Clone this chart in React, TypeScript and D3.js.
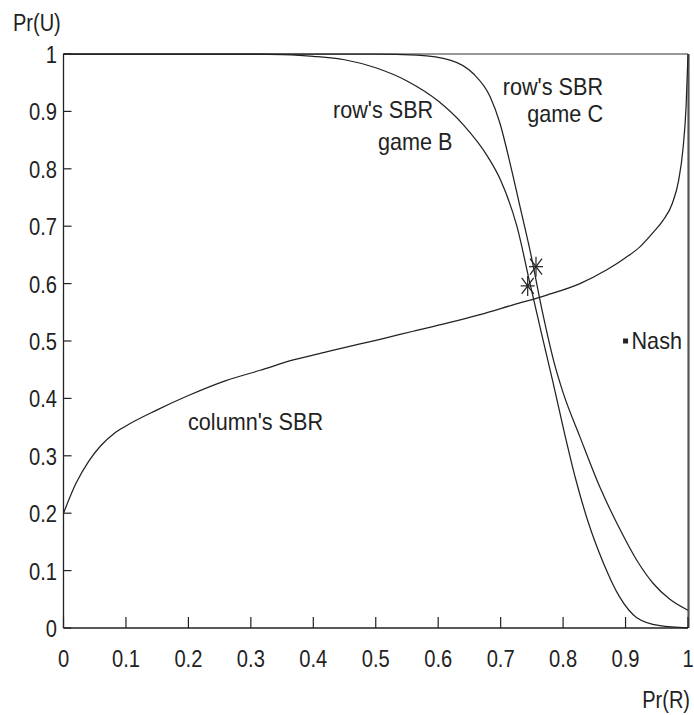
import React from 'react';
import * as d3 from 'd3';

const xTicks = [0, 0.1, 0.2, 0.3, 0.4, 0.5, 0.6, 0.7, 0.8, 0.9, 1];
const yTicks = [0, 0.1, 0.2, 0.3, 0.4, 0.5, 0.6, 0.7, 0.8, 0.9, 1];
const xTickLabels = ['0', '0.1', '0.2', '0.3', '0.4', '0.5', '0.6', '0.7', '0.8', '0.9', '1'];
const yTickLabels = ['0', '0.1', '0.2', '0.3', '0.4', '0.5', '0.6', '0.7', '0.8', '0.9', '1'];

// column's SBR
const colX = [0, 0.02, 0.04, 0.06, 0.08, 0.1, 0.15, 0.2, 0.26, 0.315, 0.368, 0.421, 0.475, 0.507, 0.56, 0.614, 0.667, 0.72, 0.774, 0.827, 0.87, 0.9, 0.923, 0.945, 0.96, 0.975, 0.985, 0.992, 0.997, 1];
const colY = [0.2, 0.252, 0.29, 0.318, 0.338, 0.352, 0.38, 0.405, 0.431, 0.449, 0.467, 0.481, 0.495, 0.503, 0.517, 0.531, 0.546, 0.563, 0.58, 0.6, 0.624, 0.645, 0.664, 0.69, 0.71, 0.74, 0.78, 0.835, 0.91, 1.0];

// row's SBR, game B
const rowBX = [0, 0.3, 0.35, 0.4, 0.45, 0.5, 0.55, 0.6, 0.64, 0.68, 0.7, 0.726, 0.747, 0.765, 0.783, 0.8, 0.82, 0.84, 0.865, 0.89, 0.918, 0.955, 1];
const rowBY = [1, 1, 0.999, 0.996, 0.99, 0.976, 0.953, 0.918, 0.877, 0.82, 0.78, 0.7, 0.6, 0.515, 0.432, 0.35, 0.26, 0.185, 0.112, 0.055, 0.018, 0.004, 0];

// row's SBR, game C
const rowCX = [0, 0.5, 0.566, 0.619, 0.656, 0.683, 0.699, 0.715, 0.731, 0.747, 0.768, 0.785, 0.8, 0.827, 0.859, 0.891, 0.918, 0.944, 0.971, 1];
const rowCY = [1, 1, 0.998, 0.9895, 0.966, 0.926, 0.879, 0.81, 0.734, 0.658, 0.545, 0.465, 0.41, 0.333, 0.245, 0.172, 0.118, 0.078, 0.05, 0.031];

// equilibrium markers (asterisks)
const starX = [0.7566, 0.7433];
const starY = [0.6295, 0.596];

// Nash point
const nashX = [0.9];
const nashY = [0.5];

const W = 694;
const H = 715;
const FONT = "'Liberation Sans', Arial, Helvetica, sans-serif";
const INK = '#222';

function T({ x, y, s = 0.94, anchor = 'start', size = 23, children }: any) {
  return (
    <text
      transform={`translate(${x},${y}) scale(${s},1)`}
      textAnchor={anchor}
      fontFamily={FONT}
      fontSize={size}
      fill={INK}
    >
      {children}
    </text>
  );
}

export default function App() {
  const x = d3.scaleLinear().domain([0, 1]).range([63.5, 688]);
  const y = d3.scaleLinear().domain([0, 1]).range([628, 54]);

  const line = d3
    .line<[number, number]>()
    .x((d) => x(d[0]))
    .y((d) => y(d[1]))
    .curve(d3.curveMonotoneX);

  const colPath = line(colX.map((v, i) => [v, colY[i]]) as [number, number][]) || '';
  const bPath = line(rowBX.map((v, i) => [v, rowBY[i]]) as [number, number][]) || '';
  const cPath = line(rowCX.map((v, i) => [v, rowCY[i]]) as [number, number][]) || '';

  return (
    <svg
      width={W}
      height={H}
      style={{ position: 'absolute', left: 0, top: 0, display: 'block', background: '#fff' }}
    >
      <rect x={0} y={0} width={W} height={H} fill="#fff" />
      {/* box */}
      <line x1={x(0)} x2={x(1)} y1={y(1)} y2={y(1)} stroke="#333" strokeWidth={1.2} />
      <line x1={x(1) + 0.5} x2={x(1) + 0.5} y1={y(1)} y2={y(0)} stroke="#555" strokeWidth={2.2} />
      {/* axes */}
      <line x1={x(0)} x2={x(1)} y1={y(0)} y2={y(0)} stroke={INK} strokeWidth={1.3} />
      <line x1={x(0)} x2={x(0)} y1={y(0)} y2={y(1)} stroke={INK} strokeWidth={1.3} />
      {xTicks.map((t, i) => (
        <g key={'xt' + i}>
          <line x1={x(t)} x2={x(t)} y1={y(0)} y2={y(0) - 11} stroke={INK} strokeWidth={1.2} />
          <T x={x(t)} y={667} anchor="middle" s={0.84} size={24}>
            {xTickLabels[i]}
          </T>
        </g>
      ))}
      {yTicks.map((t, i) => (
        <g key={'yt' + i}>
          <line x1={x(0)} x2={x(0) + 8} y1={y(t)} y2={y(t)} stroke={INK} strokeWidth={1.2} />
          <T x={57} y={y(t) + 9} anchor="end" s={0.84} size={24}>
            {yTickLabels[i]}
          </T>
        </g>
      ))}
      {/* curves */}
      <path d={colPath} fill="none" stroke={INK} strokeWidth={1.25} />
      <path d={bPath} fill="none" stroke={INK} strokeWidth={1.25} />
      <path d={cPath} fill="none" stroke={INK} strokeWidth={1.25} />
      {/* asterisks */}
      {starX.map((sx, i) => {
        const cx = x(sx);
        const cy = y(starY[i]);
        return (
          <g key={'st' + i} stroke={INK} strokeWidth={1.2}>
            <line x1={cx} x2={cx} y1={cy - 10} y2={cy + 10} />
            <line x1={cx - 7} x2={cx + 7} y1={cy} y2={cy} />
            <line x1={cx - 6} x2={cx + 6} y1={cy - 8} y2={cy + 8} />
            <line x1={cx - 6} x2={cx + 6} y1={cy + 8} y2={cy - 8} />
          </g>
        );
      })}
      {/* Nash */}
      {nashX.map((nx, i) => (
        <rect key={'n' + i} x={x(nx) - 2.5} y={y(nashY[i]) - 2.5} width={5} height={5} fill={INK} />
      ))}
      <T x={631.5} y={349}>Nash</T>
      {/* labels */}
      <T x={333} y={118}>row's SBR</T>
      <T x={378} y={150}>game B</T>
      <T x={603} y={95} anchor="end">row's SBR</T>
      <T x={603} y={122} anchor="end">game C</T>
      <T x={188} y={430}>column's SBR</T>
      <T x={13} y={31} s={0.87}>Pr(U)</T>
      <T x={690} y={708} anchor="end" s={0.87}>Pr(R)</T>
    </svg>
  );
}
